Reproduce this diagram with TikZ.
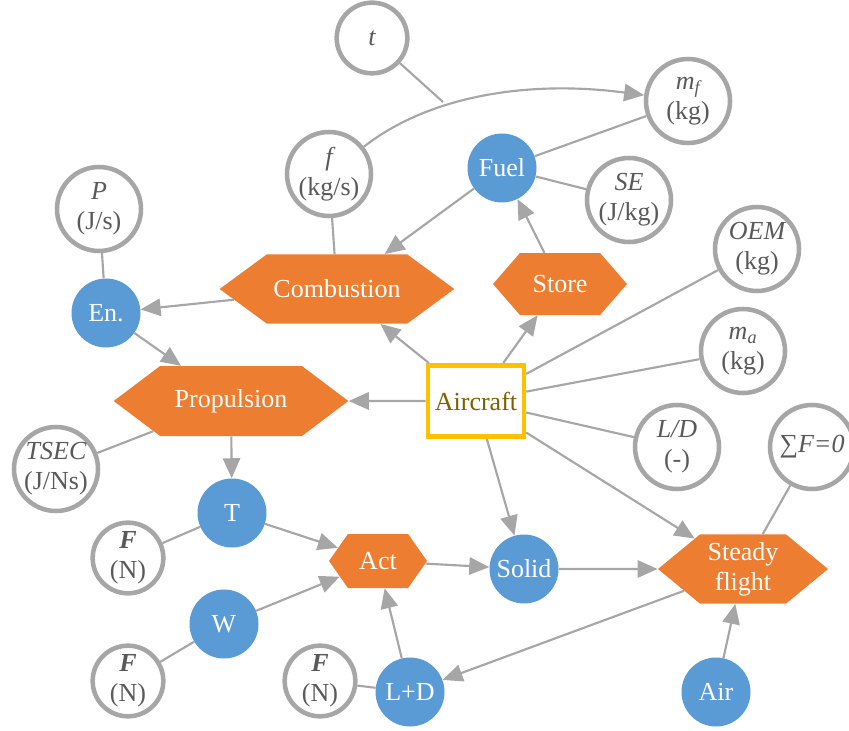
\documentclass[tikz,border=0pt]{standalone}
\usepackage{fontspec}
\setmainfont{Liberation Serif}
\usetikzlibrary{shapes.symbols,arrows.meta}
\definecolor{ringgray}{HTML}{A6A6A6}
\definecolor{txtgray}{HTML}{595959}
\definecolor{blueF}{HTML}{5B9BD5}
\definecolor{orangeF}{HTML}{ED7D31}
\definecolor{acbord}{HTML}{FFC000}
\definecolor{actxt}{HTML}{7F6000}
\begin{document}
\begin{tikzpicture}[x=0.75pt,y=-0.75pt,
 every node/.style={font=\fontsize{19.5pt}{22.5pt}\selectfont, inner sep=0pt},
 var/.style={circle, draw=ringgray, line width=3.4pt, fill=white, minimum size=63pt, text=txtgray, align=center},
 varsm/.style={var, minimum size=53pt},
 ent/.style={circle, fill=blueF, text=white, minimum size=51.75pt},
 proc/.style={signal, signal to=west and east, fill=orangeF, text=white, align=center},
 acbox/.style={rectangle, draw=acbord, line width=3.4pt, fill=white, text=actxt, minimum width=72pt, minimum height=53.6pt},
 conn/.style={draw=ringgray, line width=1.6pt},
 arr/.style={conn, -{Triangle[length=15pt,width=13pt]}}
]
\useasboundingbox (0,0) rectangle (849,731);
% variable circles
\node[varsm] (t) at (372,38) {\itshape t};
\node[var] (mf) at (688,101) {{\itshape m\textsubscript{f}}\\(kg)};
\node[var] (f) at (329,174) {{\itshape f}\\(kg/s)};
\node[var] (SE) at (629,200) {{\itshape SE}\\(J/kg)};
\node[var] (P) at (99,209) {{\itshape P}\\(J/s)};
\node[var] (OEM) at (757,249) {{\itshape OEM}\\(kg)};
\node[var] (ma) at (743,351) {{\itshape m\textsubscript{a}}\\(kg)};
\node[var] (LD) at (677,447) {{\itshape L/D}\\(-)};
\node[var] (sumF) at (812,447) {∑{\itshape F=0}};
\node[var] (TSEC) at (56,469) {{\itshape TSEC}\\(J/Ns)};
\node[varsm] (F1) at (128,558) {{\bfseries\itshape F}\\(N)};
\node[varsm] (F2) at (128,681) {{\bfseries\itshape F}\\(N)};
\node[varsm] (F3) at (320,681) {{\bfseries\itshape F}\\(N)};
% entities
\node[ent] (fuel) at (502,168) {Fuel};
\node[ent] (en) at (106,313) {En.};
\node[ent] (T) at (232,513) {T};
\node[ent] (solid) at (524,569) {Solid};
\node[ent] (W) at (224,624) {W};
\node[ent] (LpD) at (410,692) {L+D};
\node[ent] (airB) at (716,692) {Air};
% processes
\node[proc, minimum width=176pt, minimum height=52pt, signal pointer angle=72.6] (comb) at (337,289) {Combustion};
\node[proc, minimum width=100.5pt, minimum height=46.5pt, signal pointer angle=98] (store) at (560,284) {Store};
\node[proc, minimum width=176pt, minimum height=52.5pt, signal pointer angle=74] (prop) at (231,401) {Propulsion};
\node[proc, minimum width=73.5pt, minimum height=40.5pt, signal pointer angle=110] (act) at (378,561) {Act};
\node[proc, minimum width=127.5pt, minimum height=52pt, signal pointer angle=79] (steady) at (743,569) {Steady\\flight};
% aircraft
\node[acbox] (ac) at (476,401) {Aircraft};
% connectors
\coordinate (tj) at (443,102);
\draw[arr] (f) .. controls (430,95) and (530,80) .. (mf);
\draw[conn] (t) -- (tj);
\draw[conn] (mf) -- (fuel);
\draw[conn] (fuel) -- (SE);
\draw[arr] (fuel) -- (comb);
\draw[arr] (store) -- (fuel);
\draw[conn] (f) -- (comb);
\draw[conn] (P) -- (en);
\draw[arr] (comb) -- (en);
\draw[arr] (en) -- (prop);
\draw[arr] (ac) -- (comb);
\draw[arr] (ac) -- (store);
\draw[arr] (ac) -- (prop);
\draw[conn] (ac) -- (OEM);
\draw[conn] (ac) -- (ma);
\draw[conn] (ac) -- (LD);
\draw[arr] (ac) -- (steady);
\draw[arr] (ac) -- (solid);
\draw[conn] (prop) -- (TSEC);
\draw[arr] (prop) -- (T);
\draw[conn] (T) -- (F1);
\draw[arr] (T) -- (act);
\draw[arr] (W) -- (act);
\draw[conn] (W) -- (F2);
\draw[arr] (LpD) -- (act);
\draw[conn] (F3) -- (LpD);
\draw[arr] (act) -- (solid);
\draw[arr] (solid) -- (steady);
\draw[arr] (steady) -- (LpD);
\draw[arr] (airB) -- (steady);
\draw[conn] (sumF) -- (steady);
\end{tikzpicture}
\end{document}
